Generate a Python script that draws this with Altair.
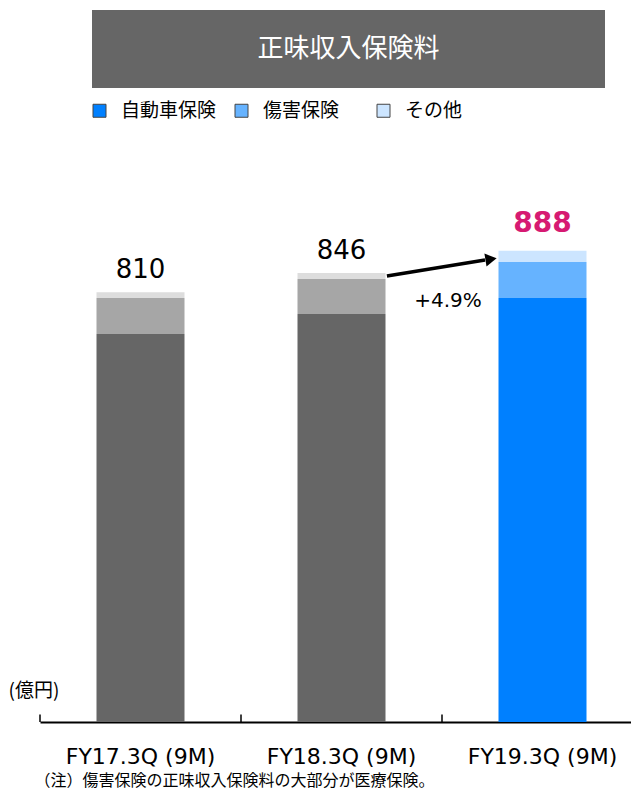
import altair as alt
import pandas as pd

# ---- data ----
categories = ["FY17.3Q (9M)", "FY18.3Q (9M)", "FY19.3Q (9M)"]
types = ["自動車保険", "傷害保険", "その他"]
auto_ins = [731, 769, 799]
accident_ins = [68, 66, 68]
other_ins = [11, 11, 21]
totals = [810, 846, 888]
growth_label = "+4.9%"
title_text = "正味収入保険料"
unit_text = "(億円)"
note_text = "（注）傷害保険の正味収入保険料の大部分が医療保険。"

# arrow (data coordinates: band index units, value units)
arrow_x = [1.726, 2.214]
arrow_y = [840.6, 870.5]
arrow_head_x = [2.244]
arrow_head_y = [872.3]
growth_x = [2.03]
growth_y = [782]

blue_cols = ["#0080FF", "#66B3FF", "#CCE5FF"]
grey_cols = ["#666666", "#A6A6A6", "#DDDDDD"]

rows = []
for i, c in enumerate(categories):
    for j, (t, v) in enumerate(zip(types, [auto_ins[i], accident_ins[i], other_ins[i]])):
        key = t if i == len(categories) - 1 else "g" + t
        rows.append({"cat": c, "key": key, "value": v, "ord": j})
df = pd.DataFrame(rows)
df_tot = pd.DataFrame({"cat": categories, "total": totals,
                       "hi": [False, False, True]})
df_tick = pd.DataFrame({"cat": categories})

JP = "Noto Sans CJK JP"
LAT = "DejaVu Sans"

xscale = alt.Scale(domain=categories, range=[0, 603], paddingInner=0, paddingOuter=0)
yscale = alt.Scale(domain=[0, 1345.6], nice=False, zero=True)

x_enc = alt.X(
    "cat:N", scale=xscale, sort=categories,
    axis=alt.Axis(
        title=note_text, titleX=-6, titleY=58, titleAlign="left", titleBaseline="middle",
        titleFont=JP, titleFontSize=16, titleFontWeight="normal", titleColor="#000000",
        labelFont=LAT, labelFontSize=22, labelColor="#000000", labelAngle=0,
        labelPadding=24, labelBaseline="top", ticks=False,
        domainColor="#000000", domainWidth=2, grid=False,
    ),
)
y_enc = alt.Y(
    "value:Q", scale=yscale, stack="zero",
    axis=alt.Axis(
        title=unit_text, titleAngle=0, titleX=-32, titleY=682, titleAlign="left",
        titleBaseline="middle", titleFont=JP, titleFontSize=19, titleFontWeight="normal",
        titleColor="#000000", labels=False, ticks=False, domain=False, grid=False,
    ),
)

bars = alt.Chart(df).mark_bar(size=88).encode(
    x=x_enc,
    y=y_enc,
    color=alt.Color(
        "key:N",
        scale=alt.Scale(domain=types + ["g" + t for t in types], range=blue_cols + grey_cols),
        legend=alt.Legend(values=types, title=None),
    ),
    order=alt.Order("ord:Q", sort="ascending"),
)

ticks = alt.Chart(df_tick).mark_rule(color="#000000", strokeWidth=1.5).encode(
    x=alt.X("cat:N", scale=xscale, sort=categories, bandPosition=0),
    y=alt.datum(0),
    y2=alt.datum(14),
)

lab_norm = alt.Chart(df_tot).transform_filter("!datum.hi").mark_text(
    font=LAT, fontSize=26, color="#000000", baseline="alphabetic", dy=-14
).encode(
    x=alt.X("cat:N", scale=xscale, sort=categories),
    y=alt.Y("total:Q", scale=yscale),
    text="total:Q",
)
lab_hi = alt.Chart(df_tot).transform_filter("datum.hi").mark_text(
    font=LAT, fontSize=28, fontWeight="bold", color="#D61A72", baseline="alphabetic", dy=-19
).encode(
    x=alt.X("cat:N", scale=xscale, sort=categories),
    y=alt.Y("total:Q", scale=yscale),
    text="total:Q",
)

header_df = pd.DataFrame({"t": [title_text]})
header_box = alt.Chart(header_df).mark_rect(color="#666666").encode(
    x=alt.value(52), x2=alt.value(565), y=alt.value(2), y2=alt.value(80)
)
header_txt = alt.Chart(header_df).mark_text(
    font=JP, fontSize=26, color="#FFFFFF", baseline="middle", align="center"
).encode(x=alt.value(308.5), y=alt.value(41), text="t:N")

inner = alt.layer(header_box, header_txt, bars, ticks, lab_norm, lab_hi)

ax_scale = alt.Scale(domain=[0, 3], range=[0, 603], nice=False, zero=False)
arrow_df = pd.DataFrame({"x": arrow_x, "y": arrow_y})
arrow_line = alt.Chart(arrow_df).mark_line(color="#000000", strokeWidth=3.5).encode(
    x=alt.X("x:Q", scale=ax_scale, axis=None),
    y=alt.Y("y:Q", scale=yscale),
)
head_df = pd.DataFrame({"x": arrow_head_x, "y": arrow_head_y})
arrow_head = alt.Chart(head_df).mark_point(
    shape="triangle-right", filled=True, color="#000000", opacity=1, size=170, angle=350.8
).encode(
    x=alt.X("x:Q", scale=ax_scale, axis=None),
    y=alt.Y("y:Q", scale=yscale),
)
gr_df = pd.DataFrame({"x": growth_x, "y": growth_y, "t": [growth_label]})
growth = alt.Chart(gr_df).mark_text(
    font=LAT, fontSize=20, color="#000000", baseline="alphabetic", align="center"
).encode(
    x=alt.X("x:Q", scale=ax_scale, axis=None),
    y=alt.Y("y:Q", scale=yscale),
    text="t:N",
)
arrow_layer = alt.layer(arrow_line, arrow_head, growth)

chart = alt.layer(inner, arrow_layer).resolve_scale(x="independent").properties(
    width=591, height=714,
    autosize=alt.AutoSizeParams(type="none"),
    padding={"left": 32, "top": 0, "right": 0, "bottom": 69},
).configure_view(stroke=None).configure_legend(
    orient="none", legendX=50, legendY=93, direction="horizontal",
    columns=3, gridAlign="all", columnPadding=15,
    symbolType="square", symbolSize=169, symbolStrokeColor="#444444", symbolStrokeWidth=1,
    symbolOpacity=1,
    labelFont=JP, labelFontSize=19, labelColor="#000000", labelOffset=12,
)

chart.save("out.html", embed_options={"renderer": "svg", "actions": False})
